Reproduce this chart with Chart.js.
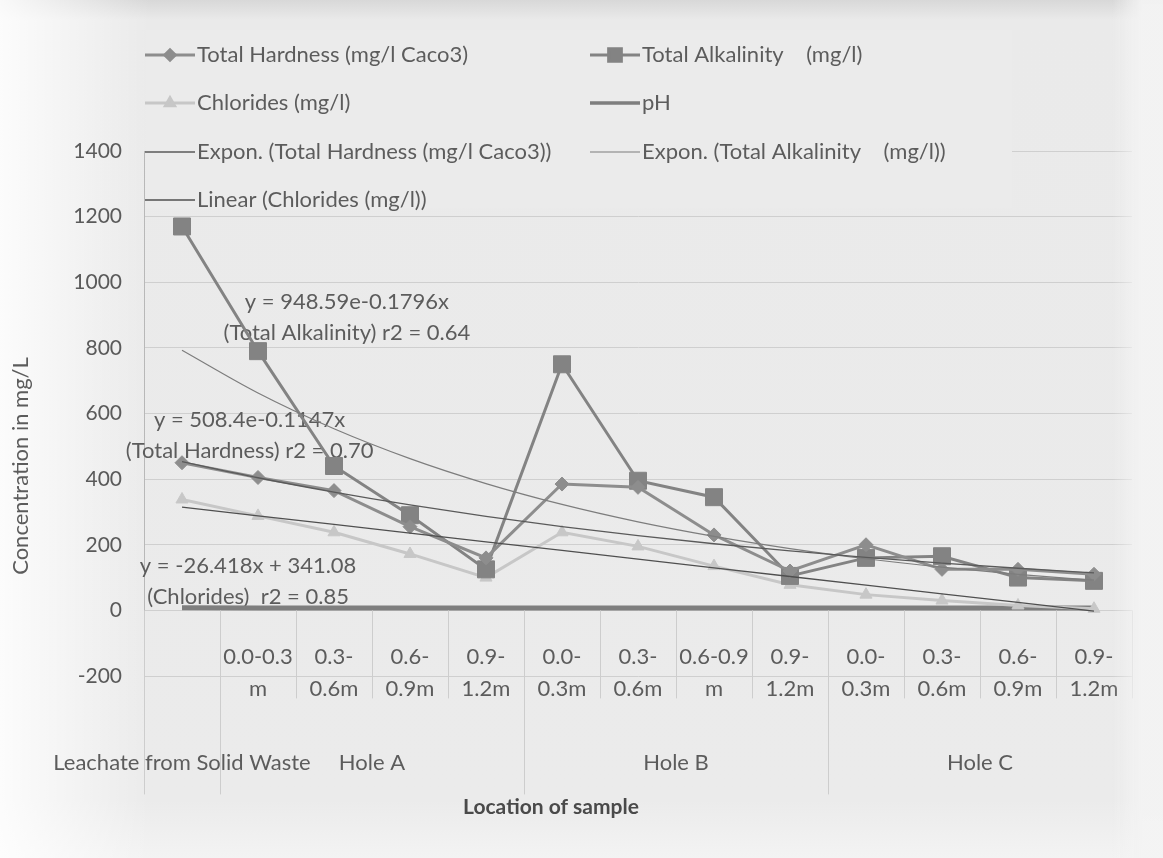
<!DOCTYPE html>
<html><head><meta charset="utf-8">
<script src="https://cdn.jsdelivr.net/npm/chart.js@4.4.1/dist/chart.umd.min.js"></script>
<style>
html,body{margin:0;padding:0;}
body{width:1163px;height:858px;overflow:hidden;background:#ebebeb;}
#wrap{position:relative;width:1163px;height:858px;
 background:
  linear-gradient(to right, rgba(255,255,255,0.85) 0px, rgba(255,255,255,0) 150px),
  linear-gradient(to bottom, #d8d8d8 0px, #eaeaea 20px, #ebebeb 800px, #f3f3f3 858px);}
#fade{position:absolute;left:1112px;top:0;width:51px;height:858px;
 background:linear-gradient(to right, rgba(243,243,243,0), rgba(243,243,243,0.95) 30px);}
canvas{position:absolute;left:0;top:0;}
</style></head><body><div id="wrap"><canvas id="c" width="1163" height="858"></canvas><div id="fade"></div></div>
<script>
// ---- data ----
const categories = ['Leachate','A 0.0-0.3m','A 0.3-0.6m','A 0.6-0.9m','A 0.9-1.2m','B 0.0-0.3m','B 0.3-0.6m','B 0.6-0.9m','B 0.9-1.2m','C 0.0-0.3m','C 0.3-0.6m','C 0.6-0.9m','C 0.9-1.2m'];
const depthLine1 = ['', '0.0-0.3','0.3-','0.6-','0.9-','0.0-','0.3-','0.6-0.9','0.9-','0.0-','0.3-','0.6-','0.9-'];
const depthLine2 = ['', 'm','0.6m','0.9m','1.2m','0.3m','0.6m','m','1.2m','0.3m','0.6m','0.9m','1.2m'];
const groupLabels = ['Leachate from Solid Waste','Hole A','Hole B','Hole C'];
const groupSizes = [1,4,4,4];

const totalHardness   = [450,405,365,255,160,385,375,230,120,200,125,125,110];
const totalAlkalinity = [1170,790,440,290,125,750,395,345,105,160,165,100,90];
const chlorides       = [338,288,238,172,100,238,195,135,78,48,30,15,5];
const pH              = [7.9,7.4,7.2,7.1,7.0,7.3,7.2,7.1,7.0,7.2,7.1,7.0,6.9];
const exponHardness   = [453.3,404.2,360.4,321.3,286.5,255.5,227.8,203.1,181.1,161.5,144.0,128.4,114.5];
const exponAlkalinity = [792.7,662.4,553.5,462.5,386.5,322.9,269.8,225.5,188.4,157.4,131.6,109.9,91.9];
const linearChlorides = [314.7,288.2,261.8,235.4,209.0,182.6,156.2,129.7,103.3,76.9,50.5,24.1,-2.4];
const yTickValues = [-200,0,200,400,600,800,1000,1200,1400];
const yTickLabels = ['-200','0','200','400','600','800','1000','1200','1400'];

const equationLabels = [
  {lines:['y = 948.59e-0.1796x','(Total Alkalinity) r2 = 0.64'], idx:2.17, value:941},
  {lines:['y = 508.4e-0.1147x','(Total Hardness) r2 = 0.70'], idx:0.89, value:580},
  {lines:['y = -26.418x + 341.08','(Chlorides)  r2 = 0.85'], idx:0.87, value:135}
];

const FONT = 'Lato, "Open Sans", sans-serif';
const TXT = '#5c5c5c';

// ---- plugins ----
const bgText = {
  id:'bgText',
  beforeDatasetsDraw(chart){
    const ctx = chart.ctx, xs = chart.scales.x, ys = chart.scales.y;
    ctx.save();
    ctx.fillStyle = '#ebebeb';
    ctx.fillRect(146, 30, 866, 178);
    ctx.font = '22px ' + FONT; ctx.fillStyle = TXT; ctx.textAlign='center'; ctx.textBaseline='middle';
    const step = xs.getPixelForValue(1) - xs.getPixelForValue(0);
    equationLabels.forEach(e=>{
      const x = xs.getPixelForValue(0) + e.idx*step;
      const y = ys.getPixelForValue(e.value);
      e.lines.forEach((t,i)=>ctx.fillText(t, x, y + i*31));
    });
    const ds = chart.data.datasets;
    const cols = [145, 590], rows = [55,103,152,200];
    ds.forEach((d,i)=>{
      const cx = cols[i%2], cy = rows[Math.floor(i/2)];
      ctx.strokeStyle = d.borderColor; ctx.lineWidth = Math.min(d.borderWidth,3.5);
      ctx.beginPath(); ctx.moveTo(cx, cy); ctx.lineTo(cx+50, cy); ctx.stroke();
      if (d.pointRadius > 0) {
        ctx.fillStyle = d.backgroundColor;
        Chart.helpers.drawPoint(ctx, {pointStyle:d.pointStyle, radius:d.pointRadius*0.75, rotation:0, borderWidth:1}, cx+25, cy);
      }
      ctx.fillStyle = TXT; ctx.textAlign='left'; ctx.textBaseline='middle';
      ctx.font = '22px ' + FONT;
      ctx.fillText(d.label, cx+52, cy);
    });
    ctx.restore();
  },
  afterDraw(chart){
    const ctx = chart.ctx, xs = chart.scales.x, ys = chart.scales.y;
    const y0 = ys.getPixelForValue(0);
    const step = xs.getPixelForValue(1) - xs.getPixelForValue(0);
    ctx.save();
    ctx.strokeStyle = '#cdcdcd'; ctx.lineWidth = 1;
    const groupBounds = [0]; let acc = 0; groupSizes.forEach(s=>{acc+=s; groupBounds.push(acc);});
    for (let i=0;i<=categories.length;i++){
      const x = Math.round(xs.getPixelForValue(i) - step/2) + 0.5;
      const long = groupBounds.includes(i) && i < categories.length;
      ctx.beginPath(); ctx.moveTo(x, y0); ctx.lineTo(x, y0 + (long ? 184 : 88)); ctx.stroke();
    }
    ctx.font = '22px ' + FONT; ctx.fillStyle = TXT; ctx.textAlign='center'; ctx.textBaseline='middle';
    categories.forEach((c,i)=>{
      const x = xs.getPixelForValue(i);
      ctx.fillText(depthLine1[i], x, y0 + 47);
      ctx.fillText(depthLine2[i], x, y0 + 79);
    });
    let start = 0;
    groupLabels.forEach((g,gi)=>{
      const a = xs.getPixelForValue(start), b = xs.getPixelForValue(start + groupSizes[gi] - 1);
      ctx.fillText(g, (a+b)/2, y0 + 153);
      start += groupSizes[gi];
    });
    ctx.font = 'bold 21px ' + FONT; ctx.fillStyle = '#4a4a4a';
    ctx.fillText('Location of sample', chart.chartArea.left + 407, y0 + 197);
    ctx.font = '22px ' + FONT; ctx.fillStyle = TXT;
    ctx.translate(21, 466); ctx.rotate(-Math.PI/2);
    ctx.fillText('Concentration in mg/L', 0, 0);
    ctx.restore();
  }
};

const trendBase = {pointRadius:0, fill:false, order:1};
new Chart(document.getElementById('c'), {
  type:'line',
  data:{labels:categories, datasets:[
    {label:'Total Hardness (mg/l Caco3)', data:totalHardness, borderColor:'#8d8d8d', backgroundColor:'#8d8d8d', borderWidth:3, pointStyle:'rectRot', pointRadius:7, pointBorderWidth:1, order:2},
    {label:'Total Alkalinity    (mg/l)', data:totalAlkalinity, borderColor:'#838383', backgroundColor:'#838383', borderWidth:3, pointStyle:'rect', pointRadius:12, pointBorderWidth:1, order:2},
    {label:'Chlorides (mg/l)', data:chlorides, borderColor:'#c7c7c7', backgroundColor:'#c7c7c7', borderWidth:3, pointStyle:'triangle', pointRadius:7, pointBorderWidth:1, order:2},
    {label:'pH', data:pH, borderColor:'#7e7e7e', backgroundColor:'#7e7e7e', borderWidth:5, pointRadius:0, order:2},
    Object.assign({label:'Expon. (Total Hardness (mg/l Caco3))', data:exponHardness, borderColor:'#5a5a5a', backgroundColor:'#5a5a5a', borderWidth:1.3, cubicInterpolationMode:'monotone'}, trendBase),
    Object.assign({label:'Expon. (Total Alkalinity    (mg/l))', data:exponAlkalinity, borderColor:'#7d7d7d', backgroundColor:'#7d7d7d', borderWidth:1.2, cubicInterpolationMode:'monotone'}, trendBase),
    Object.assign({label:'Linear (Chlorides (mg/l))', data:linearChlorides, borderColor:'#4f4f4f', backgroundColor:'#4f4f4f', borderWidth:1.3}, trendBase)
  ]},
  options:{
    responsive:false, animation:false,
    layout:{padding:{top:151, right:31, bottom:182, left:0}},
    plugins:{legend:{display:false}, tooltip:{enabled:false}},
    scales:{
      x:{type:'category', offset:true, display:false},
      y:{min:-200, max:1400,
         afterFit(s){ s.width = 144; },
         afterBuildTicks(s){ s.ticks = yTickValues.map(v=>({value:v})); },
         ticks:{padding:22, color:'#5a5a5a', font:{family:FONT, size:21},
                callback(v){ const k = yTickValues.indexOf(v); return k >= 0 ? yTickLabels[k] : String(v); }},
         grid:{color:'#cfcfcf', drawTicks:false, lineWidth:1},
         border:{display:true, color:'#b8b8b8'}}
    }
  },
  plugins:[bgText]
});
</script>
</body></html>
